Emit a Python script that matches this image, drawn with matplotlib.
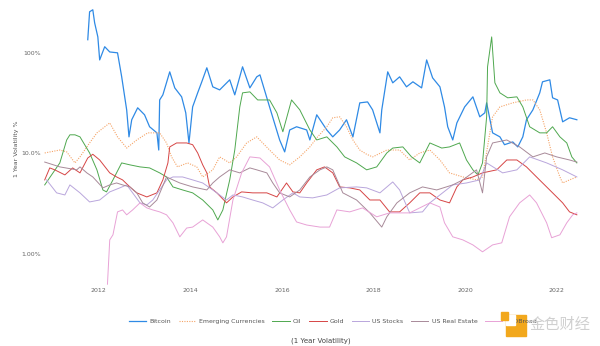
import matplotlib
matplotlib.use("Agg")
import matplotlib.pyplot as plt
from matplotlib.patches import Rectangle

# values: decimal year, 1-year volatility in %
btc_t = [2011.76, 2011.80, 2011.87, 2011.91, 2011.98, 2012.02, 2012.13, 2012.24, 2012.41, 2012.50,
         2012.61, 2012.66, 2012.72, 2012.85, 2013.00, 2013.11, 2013.27, 2013.31, 2013.33, 2013.40,
         2013.55, 2013.66, 2013.81, 2013.90, 2013.97, 2014.05, 2014.16, 2014.25, 2014.36, 2014.49,
         2014.64, 2014.86, 2014.97, 2015.14, 2015.30, 2015.45, 2015.52, 2015.73, 2015.95, 2016.06,
         2016.17, 2016.32, 2016.54, 2016.61, 2016.76, 2016.98, 2017.11, 2017.26, 2017.41, 2017.55,
         2017.70, 2017.87, 2017.98, 2018.14, 2018.18, 2018.31, 2018.42, 2018.57, 2018.72, 2018.86,
         2019.05, 2019.16, 2019.29, 2019.45, 2019.55, 2019.62, 2019.73, 2019.82, 2019.99, 2020.17,
         2020.32, 2020.43, 2020.47, 2020.60, 2020.76, 2020.86, 2021.04, 2021.15, 2021.26, 2021.34,
         2021.48, 2021.63, 2021.69, 2021.85, 2021.91, 2022.02, 2022.13, 2022.28, 2022.44]
btc_v = [135, 256, 268, 199, 144, 85, 115, 102, 100, 58,
         27, 14.6, 21.6, 28.4, 24.2, 18.4, 16.0, 10.8, 34.0, 38.2,
         64.7, 44.8, 36.5, 25.3, 12.7, 29.0, 40.0, 51.5, 71, 45.9,
         42.8, 53.9, 38.2, 72.6, 44.8, 57.7, 60.4, 29.0, 13.6, 10.35,
         17.1, 18.4, 17.1, 13.6, 24.2, 17.1, 14.6, 17.1, 21.6, 14.6,
         31.8, 32.5, 27.1, 16.0, 27.1, 64.7, 50.3, 57.7, 45.9, 51.5,
         44.8, 85, 56.4, 45.9, 29.0, 18.4, 13.6, 20.1, 29.0, 36.5,
         23.1, 25.3, 31.8, 16.0, 14.6, 12.2, 13.0, 11.6, 14.6, 21.6,
         27.1, 40.0, 51.5, 53.9, 35.7, 34.0, 20.6, 22.6, 21.6]

em_t = [2010.82, 2011.15, 2011.30, 2011.48, 2011.59, 2011.80, 2011.96, 2012.24, 2012.41, 2012.61,
        2012.83, 2013.07, 2013.33, 2013.48, 2013.59, 2013.72, 2013.94, 2014.14, 2014.27, 2014.49,
        2014.64, 2014.86, 2015.01, 2015.23, 2015.45, 2015.73, 2015.95, 2016.17, 2016.39, 2016.61,
        2016.78, 2016.98, 2017.11, 2017.26, 2017.41, 2017.55, 2017.70, 2017.85, 2017.98, 2018.29,
        2018.57, 2018.79, 2019.01, 2019.23, 2019.45, 2019.66, 2019.95, 2020.25, 2020.38, 2020.54,
        2020.60, 2020.76, 2021.04, 2021.34, 2021.48, 2021.63, 2021.78, 2021.91, 2022.07, 2022.13,
        2022.28, 2022.44]
em_v = [10.1, 10.8, 10.35, 8.04, 9.23, 12.7, 16.0, 20.1, 14.6, 11.3,
        13.6, 16.0, 16.0, 12.7, 9.23, 7.34, 8.04, 7.34, 5.83, 6.86,
        9.23, 8.04, 9.23, 12.7, 14.6, 10.8, 8.6, 7.69, 9.23, 11.6,
        14.6, 18.4, 22.6, 23.1, 18.4, 13.6, 10.8, 9.8, 9.23, 10.8,
        10.8, 8.6, 10.1, 10.8, 8.6, 6.40, 5.83, 5.45, 5.83, 16.0,
        23.1, 29.0, 31.8, 34.0, 34.0, 27.1, 16.0, 9.23, 5.83, 5.08,
        5.45, 5.83]

oil_t = [2010.82, 2011.15, 2011.30, 2011.37, 2011.48, 2011.59, 2011.80, 2011.96, 2012.09, 2012.17,
         2012.31, 2012.50, 2012.68, 2012.90, 2013.11, 2013.33, 2013.48, 2013.62, 2013.83, 2014.05,
         2014.27, 2014.49, 2014.60, 2014.71, 2014.86, 2014.97, 2015.08, 2015.14, 2015.30, 2015.47,
         2015.73, 2015.89, 2016.02, 2016.21, 2016.39, 2016.61, 2016.76, 2016.98, 2017.20, 2017.37,
         2017.63, 2017.85, 2018.07, 2018.29, 2018.42, 2018.64, 2018.83, 2019.01, 2019.23, 2019.49,
         2019.66, 2019.88, 2020.03, 2020.17, 2020.28, 2020.38, 2020.47, 2020.49, 2020.58, 2020.65,
         2020.76, 2020.93, 2021.13, 2021.26, 2021.41, 2021.63, 2021.78, 2021.91, 2022.07, 2022.22,
         2022.33, 2022.44]
oil_v = [4.86, 8.04, 13.6, 15.3, 15.3, 14.6, 10.1, 6.86, 4.33, 4.14,
         5.45, 8.04, 7.69, 7.34, 7.17, 6.40, 5.83, 4.64, 4.33, 4.05,
         3.44, 2.74, 2.18, 2.74, 5.45, 10.8, 29.0, 40.0, 40.9, 34.0,
         34.0, 25.3, 16.4, 34.0, 27.1, 17.1, 13.6, 14.6, 11.6, 9.23,
         8.04, 6.86, 7.34, 10.1, 11.3, 11.6, 9.23, 8.04, 12.7, 11.3,
         11.6, 12.7, 8.6, 6.86, 6.11, 8.04, 23.1, 72.6, 144, 50.3,
         40.0, 35.7, 36.5, 29.0, 18.4, 16.0, 16.0, 18.4, 14.6, 12.7,
         9.23, 8.04]

gold_t = [2010.82, 2010.93, 2011.04, 2011.26, 2011.43, 2011.59, 2011.76, 2011.87, 2012.02, 2012.24,
          2012.39, 2012.52, 2012.68, 2012.83, 2013.05, 2013.27, 2013.40, 2013.51, 2013.55, 2013.70,
          2013.92, 2014.05, 2014.16, 2014.27, 2014.36, 2014.42, 2014.58, 2014.79, 2014.93, 2015.12,
          2015.36, 2015.67, 2015.89, 2016.10, 2016.24, 2016.39, 2016.54, 2016.76, 2016.93, 2017.11,
          2017.26, 2017.48, 2017.70, 2017.92, 2018.14, 2018.35, 2018.57, 2018.79, 2019.01, 2019.23,
          2019.45, 2019.66, 2019.82, 2019.95, 2020.17, 2020.38, 2020.69, 2020.91, 2021.13, 2021.34,
          2021.56, 2021.78, 2022.00, 2022.13, 2022.28, 2022.44]
gold_v = [5.45, 7.17, 6.86, 6.11, 7.17, 6.40, 9.0, 9.8, 8.6, 6.40,
          5.83, 5.45, 4.64, 4.05, 3.69, 4.05, 5.45, 8.04, 11.6, 12.7,
          12.7, 12.2, 10.1, 7.69, 6.40, 4.64, 4.05, 3.22, 3.69, 4.14,
          4.05, 4.05, 3.69, 5.08, 4.14, 4.05, 5.08, 6.86, 7.34, 6.40,
          4.64, 4.54, 4.33, 3.44, 3.44, 2.62, 2.62, 3.22, 4.05, 4.05,
          3.44, 3.22, 4.64, 5.45, 5.83, 6.40, 6.86, 8.6, 8.6, 7.34,
          5.83, 4.64, 3.69, 3.22, 2.62, 2.45]

stocks_t = [2010.86, 2011.08, 2011.26, 2011.37, 2011.59, 2011.80, 2012.02, 2012.24, 2012.46, 2012.61,
            2012.74, 2012.90, 2013.05, 2013.18, 2013.33, 2013.48, 2013.62, 2013.83, 2014.05, 2014.27,
            2014.49, 2014.79, 2014.93, 2015.14, 2015.36, 2015.58, 2015.80, 2016.02, 2016.24, 2016.39,
            2016.67, 2016.98, 2017.26, 2017.63, 2017.85, 2018.14, 2018.42, 2018.57, 2018.79, 2019.07,
            2019.23, 2019.45, 2019.73, 2020.03, 2020.32, 2020.47, 2020.82, 2021.13, 2021.41, 2021.78,
            2022.13, 2022.44]
stocks_v = [5.45, 4.05, 3.86, 4.86, 4.05, 3.29, 3.44, 4.14, 4.54, 4.86,
            4.05, 3.22, 3.07, 3.44, 4.33, 5.45, 5.83, 5.83, 5.45, 5.08,
            4.33, 3.44, 3.86, 3.69, 3.44, 3.22, 2.87, 3.44, 4.05, 3.69,
            3.61, 3.86, 4.54, 4.64, 4.54, 4.05, 5.20, 4.33, 2.56, 2.62,
            3.22, 3.86, 4.86, 5.08, 5.45, 8.04, 6.40, 6.86, 9.23, 8.04,
            6.86, 5.83]

estate_t = [2010.82, 2011.15, 2011.52, 2011.59, 2011.74, 2011.87, 2012.09, 2012.24, 2012.39, 2012.52,
            2012.68, 2012.83, 2012.96, 2013.11, 2013.27, 2013.48, 2013.62, 2013.77, 2014.05, 2014.36,
            2014.49, 2014.64, 2014.86, 2015.08, 2015.30, 2015.45, 2015.67, 2015.80, 2015.95, 2016.17,
            2016.39, 2016.61, 2016.83, 2016.98, 2017.11, 2017.33, 2017.63, 2017.92, 2018.18, 2018.29,
            2018.51, 2018.79, 2019.07, 2019.38, 2019.73, 2019.95, 2020.25, 2020.38, 2020.47, 2020.60,
            2020.91, 2021.19, 2021.48, 2021.74, 2022.00, 2022.28, 2022.44]
estate_v = [8.2, 7.34, 6.86, 7.34, 6.40, 5.83, 4.54, 4.86, 5.08, 4.86,
            4.64, 4.05, 3.22, 2.93, 3.44, 5.83, 5.45, 5.08, 4.64, 4.33,
            5.08, 5.83, 6.86, 6.40, 7.17, 6.86, 6.40, 5.08, 4.05, 3.69,
            4.33, 5.83, 6.86, 7.34, 6.86, 4.05, 3.44, 2.56, 1.85, 2.34,
            3.22, 4.05, 4.64, 4.33, 4.86, 5.45, 6.86, 4.05, 9.23, 12.7,
            13.6, 11.6, 9.23, 10.1, 9.23, 8.6, 8.2]

usd_t = [2012.19, 2012.24, 2012.31, 2012.41, 2012.52, 2012.61, 2012.74, 2012.90, 2013.05, 2013.18,
         2013.33, 2013.48, 2013.62, 2013.77, 2013.92, 2014.05, 2014.27, 2014.49, 2014.64, 2014.71,
         2014.79, 2014.93, 2015.12, 2015.30, 2015.52, 2015.73, 2015.95, 2016.17, 2016.32, 2016.54,
         2016.83, 2017.04, 2017.20, 2017.48, 2017.76, 2018.07, 2018.35, 2018.79, 2019.23, 2019.45,
         2019.55, 2019.73, 2019.95, 2020.17, 2020.38, 2020.60, 2020.80, 2020.97, 2021.19, 2021.41,
         2021.56, 2021.78, 2021.89, 2022.07, 2022.22, 2022.35, 2022.44]
usd_v = [0.5, 1.38, 1.55, 2.62, 2.74, 2.45, 2.74, 3.22, 2.87, 2.74,
         2.62, 2.45, 2.04, 1.48, 1.81, 1.85, 2.18, 1.85, 1.48, 1.29,
         1.48, 3.44, 6.40, 9.23, 9.0, 7.34, 4.33, 2.74, 2.08, 1.94,
         1.85, 1.85, 2.74, 2.62, 2.87, 2.34, 2.56, 2.56, 3.22, 2.93,
         2.04, 1.48, 1.38, 1.23, 1.05, 1.23, 1.29, 2.34, 3.22, 3.86,
         3.22, 2.04, 1.45, 1.55, 2.04, 2.45, 2.56]

year_ticks = [2012, 2014, 2016, 2018, 2020, 2022]
y_ticks = [1, 10, 100]
y_labels = ["1.00%", "10.0%", "100%"]

fig = plt.figure(figsize=(6, 3.46), dpi=100)
ax = fig.add_axes([0.073, 0.176, 0.893, 0.81])

ax.plot(btc_t, btc_v, color="#2f8ae5", lw=0.9, label="Bitcoin")
ax.plot(em_t, em_v, color="#f5a468", lw=0.8, ls=(0, (1, 1.2)), label="Emerging Currencies")
ax.plot(oil_t, oil_v, color="#4fa84f", lw=0.7, label="Oil")
ax.plot(gold_t, gold_v, color="#d64545", lw=0.7, label="Gold")
ax.plot(stocks_t, stocks_v, color="#b9a6dc", lw=0.7, label="US Stocks")
ax.plot(estate_t, estate_v, color="#a88a99", lw=0.7, label="US Real Estate")
ax.plot(usd_t, usd_v, color="#e8a2d6", lw=0.7, label="USDBroad")

ax.set_yscale("log")
ax.set_ylim(0.49, 300)
ax.set_xlim(2010.8, 2022.5)
ax.set_xticks(year_ticks)
ax.set_xticklabels([str(y) for y in year_ticks])
ax.set_yticks(y_ticks)
ax.set_yticklabels(y_labels)
ax.minorticks_off()
ax.tick_params(length=0, labelsize=4.5, colors="#666666", pad=2)
for s in ax.spines.values():
    s.set_visible(False)

fig.text(0.028, 0.57, "1 Year Volatility %", rotation=90, fontsize=4.5,
         color="#555555", ha="center", va="center")
fig.text(0.535, 0.016, "(1 Year Volatility)", fontsize=5, color="#444444",
         ha="center", va="center")

fig.legend(loc="center", bbox_to_anchor=(0.555, 0.07), ncol=7, frameon=False,
           fontsize=4.5, handlelength=2.8, columnspacing=1.2, handletextpad=0.5,
           labelcolor="#555555")

# watermark
fig.patches.append(Rectangle((0.843, 0.03), 0.033, 0.06, transform=fig.transFigure,
                             color="#f2a81d", zorder=5))
fig.patches.append(Rectangle((0.843, 0.06), 0.016, 0.03, transform=fig.transFigure,
                             color="white", zorder=6))
fig.patches.append(Rectangle((0.835, 0.075), 0.012, 0.022, transform=fig.transFigure,
                             color="#f2a81d", zorder=6))
fig.text(0.882, 0.062, "金色财经", fontsize=11, color="#d0d0d0", ha="left", va="center",
         family=["Noto Sans CJK SC", "DejaVu Sans"], zorder=7)

fig.savefig("out.png", dpi=100)
